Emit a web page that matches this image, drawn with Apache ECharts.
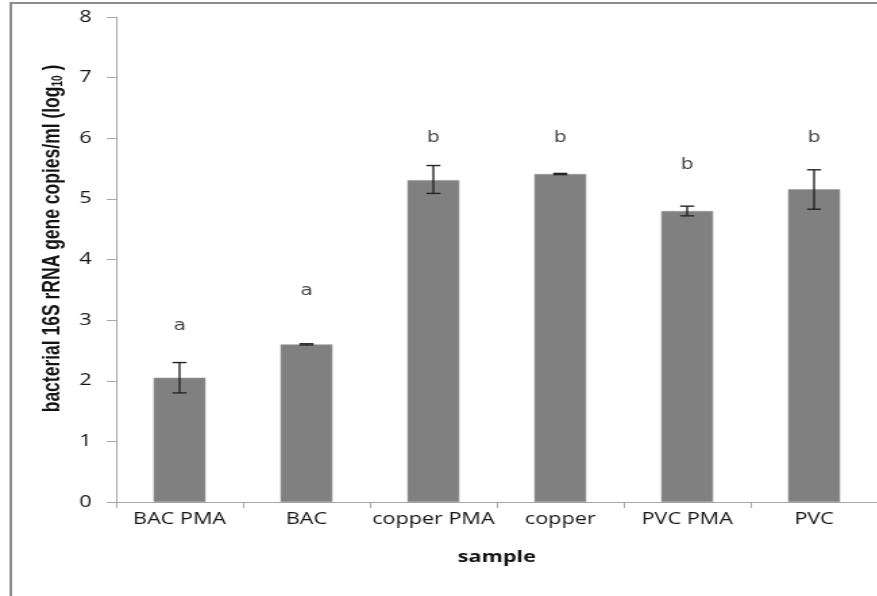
<!DOCTYPE html>
<html>
<head>
<meta charset="utf-8">
<script src="https://cdn.jsdelivr.net/npm/echarts@6/dist/echarts.min.js"></script>
<style>
  html, body { margin: 0; padding: 0; background: #fff; overflow: hidden; }
  #wrap { width: 877px; height: 596px; overflow: hidden; }
  /* the figure is laid out narrow and widened horizontally */
  #chart { width: 650px; height: 596px; transform: scaleX(1.35); transform-origin: 0 0; }
</style>
</head>
<body>
<div id="wrap"><div id="chart"></div></div>
<script>
// Sample groups and mean log10 copy numbers
const categories = ['BAC PMA', 'BAC', 'copper PMA', 'copper', 'PVC PMA', 'PVC'];
const means = [2.05, 2.60, 5.31, 5.41, 4.80, 5.16];
// Lower / upper ends of the error bars
const errLow = [1.80, 2.59, 5.09, 5.40, 4.72, 4.83];
const errHigh = [2.30, 2.61, 5.55, 5.42, 4.88, 5.48];
// Significance group letters and the height at which each is written
const groupLetters = ['a', 'a', 'b', 'b', 'b', 'b'];
const letterHeights = [2.90, 3.48, 6.00, 6.00, 5.55, 6.00];
// Y axis tick values
const yTicks = [0, 1, 2, 3, 4, 5, 6, 7, 8];

const axisGray = '#a6a6a6';
const textColor = '#141414';
const chart = echarts.init(document.getElementById('chart'), null, { renderer: 'canvas' });

chart.setOption({
  animation: false,
  backgroundColor: '#ffffff',
  graphic: [{
    type: 'rect',
    shape: { x: 8, y: 3, width: 1000, height: 1000 },
    style: { fill: 'none', stroke: '#8c8c8c', lineWidth: 2 },
    silent: true
  }],
  grid: { left: 86, top: 17, width: 572, height: 485, containLabel: false },
  xAxis: {
    type: 'category',
    data: categories,
    boundaryGap: true,
    name: 'sample',
    nameLocation: 'middle',
    nameGap: 47,
    nameTextStyle: { fontFamily: 'Open Sans', fontWeight: 'bold', fontSize: 16, color: textColor },
    axisLine: { show: true, lineStyle: { color: axisGray, width: 1 } },
    axisTick: { show: true, length: 6, alignWithLabel: false, lineStyle: { color: axisGray } },
    axisLabel: { interval: 0, hideOverlap: false, margin: 9, fontFamily: 'Open Sans', fontSize: 16, color: textColor },
    splitLine: { show: false }
  },
  yAxis: {
    type: 'value',
    min: yTicks[0],
    max: yTicks[yTicks.length - 1],
    interval: 1,
    name: '{b|bacterial 16S rRNA gene copies/ml (log}{s|10}{b| )}',
    nameLocation: 'middle',
    nameRotate: 90,
    nameGap: 19,
    nameTextStyle: {
      padding: [0, 0, 0, 42],
      rich: {
        b: { fontFamily: 'Liberation Sans Narrow, Liberation Sans', fontWeight: 'bold', fontSize: 17.5, color: textColor },
        s: { fontFamily: 'Liberation Sans Narrow, Liberation Sans', fontWeight: 'bold', fontSize: 10, color: textColor, padding: [8, 0, 0, 0] }
      }
    },
    axisLine: { show: true, lineStyle: { color: axisGray, width: 1 } },
    axisTick: { show: true, inside: false, length: 7, lineStyle: { color: axisGray } },
    axisLabel: { margin: 18, fontFamily: 'Open Sans', fontSize: 16, color: textColor },
    splitLine: { show: false }
  },
  series: [
    {
      type: 'bar',
      data: means,
      barWidth: '41%',
      itemStyle: { color: '#808080', borderColor: '#9a9a9a', borderWidth: 0.6 },
      z: 2
    },
    {
      type: 'custom',
      data: categories.map((c, i) => [i, errLow[i], errHigh[i]]),
      renderItem: function (params, api) {
        const x = api.coord([api.value(0), 0])[0];
        const lo = api.coord([api.value(0), api.value(1)])[1];
        const hi = api.coord([api.value(0), api.value(2)])[1];
        const half = 5.2;
        const st = { stroke: '#262626', lineWidth: 1.4 };
        return {
          type: 'group',
          children: [
            { type: 'line', shape: { x1: x, y1: lo, x2: x, y2: hi }, style: st },
            { type: 'line', shape: { x1: x - half, y1: hi, x2: x + half, y2: hi }, style: st },
            { type: 'line', shape: { x1: x - half, y1: lo, x2: x + half, y2: lo }, style: st }
          ]
        };
      },
      z: 3
    },
    {
      type: 'scatter',
      data: letterHeights.map((v, i) => [i, v, groupLetters[i]]),
      symbolSize: 0,
      label: {
        show: true,
        position: 'inside',
        formatter: p => p.data[2],
        fontFamily: 'DejaVu Sans',
        fontSize: 15,
        color: textColor
      },
      z: 4
    }
  ]
});
</script>
</body>
</html>
